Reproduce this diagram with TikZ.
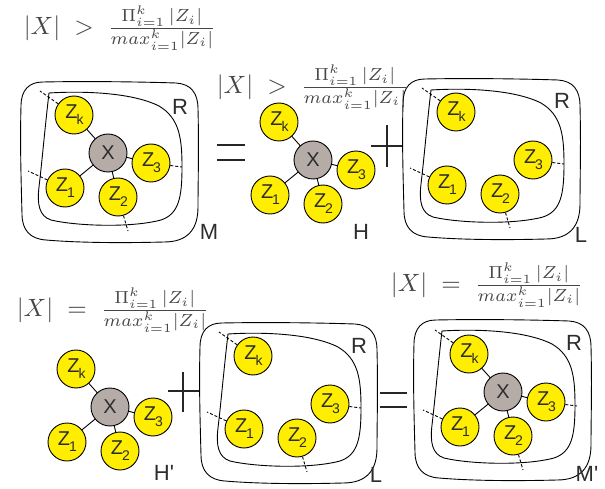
\documentclass[tikz,border=0pt]{standalone}
\usepackage{fontspec}
\setsansfont{Liberation Sans}[Ligatures=TeXOff]

\definecolor{zyellow}{RGB}{255,238,0}
\definecolor{xgray}{RGB}{181,172,168}
\definecolor{ink}{RGB}{45,45,45}
\definecolor{mathink}{RGB}{70,70,70}

\tikzset{
  zball/.style={circle, draw=black, line width=0.9pt, fill=zyellow,
    minimum size=38pt, inner sep=0pt, text=ink,
    font=\sffamily\fontsize{20}{20}\selectfont},
  xball/.style={zball, fill=xgray},
  tie/.style={line width=0.9pt},
  escape/.style={line width=0.9pt, dash pattern=on 3pt off 2pt},
  region/.style={line width=0.9pt},
  tag/.style={font=\sffamily\fontsize{22}{22}\selectfont, text=ink, inner sep=0pt},
  formula/.style={scale=2.5, text=mathink, inner sep=0pt},
  opsign/.style={line width=2pt, draw=black!85},
}

% Z with a lowered, smaller index
\newcommand\zlab[1]{\kern1pt Z\kern-1pt\raisebox{-6pt}{\fontsize{14}{14}\selectfont #1}}

% the four Z vertices around a centre (#2,#3), names prefixed by #1
\newcommand\zgroup[3]{%
  \begin{scope}[shift={(#2,#3)}]
    \node[zball] (#1zk) at (-34,-38) {\zlab{k}};
    \node[zball] (#1z3) at (43,10)   {\zlab{3}};
    \node[zball] (#1z1) at (-43,35)  {\zlab{1}};
    \node[zball] (#1z2) at (10,44)   {\zlab{2}};
  \end{scope}}

% central X vertex joined to every Z vertex
\newcommand\xhub[3]{%
  \node[xball] (#1x) at (#2,#3) {X};
  \foreach \z in {zk,z3,z1,z2} {\draw[tie] (#1x) -- (#1\z);}}

% dashed edges leaving the inner region
\newcommand\zescape[3]{%
  \begin{scope}[shift={(#2,#3)}]
    \coordinate (#1ek) at (-68,-62);
    \coordinate (#1e3) at (74,14);
    \coordinate (#1e1) at (-80,18);
    \coordinate (#1e2) at (20,78);
  \end{scope}
  \draw[escape] (#1zk) -- (#1ek);
  \draw[escape] (#1z3) -- (#1e3);
  \draw[escape] (#1z1) -- (#1e1);
  \draw[escape] (#1z2) -- (#1e2);}

% outer set M and inner region R, top-left corner at (#1,#2)
\newcommand\drawregion[2]{%
  \begin{scope}[shift={(#1,#2)}]
    \draw[region] (22,0) .. controls (70,-1) and (125,0) .. (155,1)
      .. controls (170,2) and (177,11) .. (177,27)
      .. controls (178,65) and (177,100) .. (177,125)
      .. controls (177,148) and (166,160) .. (143,160)
      .. controls (105,161) and (60,161) .. (25,158)
      .. controls (9,157) and (1,148) .. (1,132)
      .. controls (0,95) and (-1,60) .. (0,24)
      .. controls (0,8) and (8,0) .. (22,0) -- cycle;
    \draw[region] (28,11) .. controls (60,9) and (110,10) .. (138,24)
      .. controls (158,36) and (161,55) .. (161,85)
      .. controls (161,115) and (158,132) .. (140,138)
      .. controls (110,146) and (55,144) .. (30,138)
      .. controls (18,134) and (16,122) .. (18,105)
      .. controls (21,80) and (24,45) .. (28,11) -- cycle;
  \end{scope}}

\begin{document}
\begin{tikzpicture}[x=1pt,y=-1pt]
\useasboundingbox (0,0) rectangle (605,489);

% ---------- conditions ----------
\node[formula] (f1) at (120,28)
  {$|X|\;>\;\frac{\Pi^{k}_{i=1}\,|Z_i|}{max^{k}_{i=1}|Z_i|}$};
\node[formula] (f2) at (313,87)
  {$|X|\;>\;\frac{\Pi^{k}_{i=1}\,|Z_i|}{max^{k}_{i=1}|Z_i|}$};
\node[formula] (f3) at (113,310)
  {$|X|\;=\;\frac{\Pi^{k}_{i=1}\,|Z_i|}{max^{k}_{i=1}|Z_i|}$};
\node[formula] (f4) at (487,285)
  {$|X|\;=\;\frac{\Pi^{k}_{i=1}\,|Z_i|}{max^{k}_{i=1}|Z_i|}$};

% ---------- top row: M = H + L ----------
\drawregion{21}{82}
\zgroup{m}{108}{153}
\xhub{m}{108}{153}
\zescape{m}{108}{153}
\node[tag] (mR) at (180,107) {R};
\node[tag] (mM) at (209,232) {M};

\draw[opsign] (217,145) -- (245,145);
\draw[opsign] (217,160) -- (245,160);

\zgroup{h}{313}{160}
\xhub{h}{313}{160}
\node[tag] (hH) at (361,232) {H};

\draw[opsign] (371,146) -- (403,146);
\draw[opsign] (387,125) -- (387,167);

\drawregion{403}{79}
\zgroup{l}{490}{150}
\zescape{l}{490}{150}
\node[tag] (lR) at (562,101) {R};
\node[tag] (lL) at (581,235) {L};

% ---------- bottom row: H' + L = M' ----------
\zgroup{p}{110}{407}
\xhub{p}{110}{407}
\node[tag] (pH) at (164,473) {H'};

\draw[opsign] (168,391) -- (200,391);
\draw[opsign] (183,372) -- (183,412);

\drawregion{200}{323}
\zgroup{q}{287}{394}
\zescape{q}{287}{394}
\node[tag] (qR) at (359,346) {R};
\node[tag] (qL) at (376,475) {L};

\draw[opsign] (380,393) -- (407,393);
\draw[opsign] (380,407) -- (407,407);

\drawregion{414}{320}
\zgroup{n}{503}{392}
\xhub{n}{503}{392}
\zescape{n}{503}{392}
\node[tag] (nR) at (574,343) {R};
\node[tag] (nM) at (587,474) {M'};

\end{tikzpicture}
\end{document}
